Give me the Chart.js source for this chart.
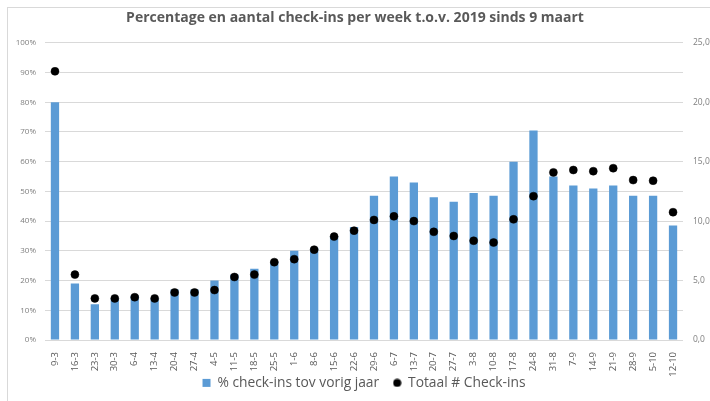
<!DOCTYPE html>
<html>
<head>
<meta charset="utf-8">
<script src="https://cdn.jsdelivr.net/npm/chart.js@4.4.1/dist/chart.umd.min.js"></script>
<style>
  html, body { margin: 0; padding: 0; background: #fff; overflow: hidden; }
  #wrap { position: relative; width: 710px; height: 401px; }
  #frame { position: absolute; left: 7px; top: 7px; width: 760px; height: 440px; border: 1px solid #d9d9d9; }
  canvas { position: absolute; left: 0; top: 0; }
</style>
</head>
<body>
<div id="wrap">
  <div id="frame"></div>
  <canvas id="chart" width="710" height="401"></canvas>
</div>
<script>
// weken (startdatum)
const weeks = ['9-3','16-3','23-3','30-3','6-4','13-4','20-4','27-4','4-5','11-5','18-5','25-5',
  '1-6','8-6','15-6','22-6','29-6','6-7','13-7','20-7','27-7','3-8','10-8','17-8',
  '24-8','31-8','7-9','14-9','21-9','28-9','5-10','12-10'];

// % check-ins t.o.v. vorig jaar
const pctVorigJaar = [80, 19, 12, 14, 15, 14, 17, 17, 20, 22, 24, 26.5,
  30, 31, 35, 38, 48.5, 55, 53, 48, 46.5, 49.5, 48.5, 60,
  70.5, 55, 52, 51, 52, 48.5, 48.5, 38.5];

// totaal aantal check-ins (x 1000)
const totaalCheckins = [22.6, 5.5, 3.5, 3.5, 3.6, 3.5, 4.0, 4.0, 4.2, 5.3, 5.5, 6.55,
  6.8, 7.6, 8.7, 9.2, 10.1, 10.4, 10.0, 9.1, 8.75, 8.35, 8.2, 10.15,
  12.1, 14.1, 14.3, 14.2, 14.45, 13.45, 13.4, 10.75];

const pctTicks = [0, 10, 20, 30, 40, 50, 60, 70, 80, 90, 100];
const countTicks = [0, 5, 10, 15, 20, 25];

const tickColor = '#7f7f7f';
const gridColor = '#d9d9d9';

// kleine zwarte stip voor de legenda
const legendDot = document.createElement('canvas');
legendDot.width = 9; legendDot.height = 9;
(function () {
  const c = legendDot.getContext('2d');
  c.fillStyle = '#000';
  c.beginPath(); c.arc(4.5, 4.5, 4, 0, Math.PI * 2); c.fill();
})();

// legenda iets omhoog schuiven (x-labels hebben hun ruimte nodig)
const legendShift = {
  id: 'legendShift',
  afterLayout(chart) {
    if (chart.legend) { chart.legend.top -= 15; }
  }
};

new Chart(document.getElementById('chart'), {
  type: 'bar',
  data: {
    labels: weeks,
    datasets: [
      {
        label: '% check-ins tov vorig jaar',
        data: pctVorigJaar,
        backgroundColor: '#5b9bd5',
        borderWidth: 0,
        yAxisID: 'y',
        categoryPercentage: 0.8,
        barPercentage: 0.52,
        pointStyle: 'rect',
        order: 1
      },
      {
        type: 'line',
        label: 'Totaal # Check-ins',
        data: totaalCheckins,
        showLine: false,
        borderWidth: 0.5,
        pointRadius: 4,
        pointHoverRadius: 4,
        pointBorderWidth: 0.5,
        pointBackgroundColor: '#000',
        pointBorderColor: '#000',
        backgroundColor: '#000',
        borderColor: '#000',
        pointStyle: 'circle',
        yAxisID: 'y2',
        order: 0
      }
    ]
  },
  plugins: [legendShift],
  options: {
    responsive: false,
    animation: false,
    layout: { padding: { left: 0, right: 0, top: 0, bottom: 0 } },
    plugins: {
      title: {
        display: true,
        text: 'Percentage en aantal check-ins per week t.o.v. 2019 sinds 9 maart',
        color: '#595959',
        font: { family: 'Open Sans', size: 14, weight: 'bold' },
        padding: { top: 10, bottom: 16 }
      },
      legend: {
        position: 'bottom',
        fullSize: false,
        maxHeight: 24,
        labels: {
          color: '#595959',
          font: { family: 'Open Sans', size: 13.8 },
          usePointStyle: true,
          boxWidth: 8,
          boxHeight: 8,
          padding: 14,
          sort: (a, b) => a.datasetIndex - b.datasetIndex,
          generateLabels: chart => {
            const items = Chart.defaults.plugins.legend.labels.generateLabels(chart);
            items.forEach(it => {
              it.lineWidth = 0;
              if (it.datasetIndex === 1) it.pointStyle = legendDot;
            });
            return items;
          }
        }
      },
      tooltip: { enabled: false }
    },
    scales: {
      x: {
        grid: { display: false },
        border: { display: false },
        ticks: {
          color: '#595959',
          font: { family: 'Open Sans', size: 9.5 },
          minRotation: 90,
          maxRotation: 90,
          autoSkip: false,
          padding: 4
        },
        afterFit: s => { s.height = 37; }
      },
      y: {
        position: 'left',
        min: 0,
        max: 100,
        afterBuildTicks: s => { s.ticks = pctTicks.map(v => ({ value: v })); },
        grid: { color: gridColor, drawTicks: false },
        border: { display: false },
        ticks: {
          color: tickColor,
          font: { family: 'Open Sans', size: 8 },
          padding: 9,
          callback: v => v + '%'
        },
        afterFit: s => { s.width = 45; }
      },
      y2: {
        position: 'right',
        min: 0,
        max: 25,
        afterBuildTicks: s => { s.ticks = countTicks.map(v => ({ value: v })); },
        grid: { display: false, drawTicks: false },
        border: { display: false },
        ticks: {
          color: tickColor,
          font: { family: 'Open Sans', size: 8.5 },
          padding: 10,
          callback: v => v.toFixed(1).replace('.', ',')
        },
        afterFit: s => { s.width = 27; }
      }
    }
  }
});
</script>
</body>
</html>
